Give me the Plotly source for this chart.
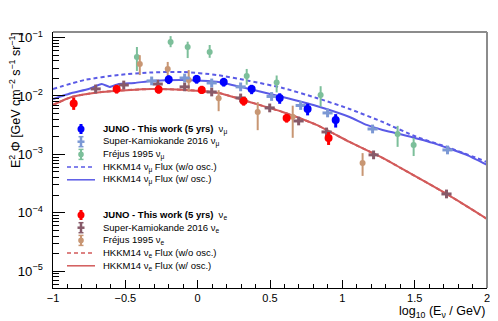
import numpy as np
import plotly.graph_objects as go

# ---- data (x = log10(E/GeV), y = E^2 Phi) ----
# JUNO, this work (5 yrs)
juno_mu_x = [-0.20, -0.007, 0.18, 0.373, 0.567, 0.76, 0.954]
juno_mu_y = [0.0192, 0.0195, 0.0174, 0.0132, 0.00924, 0.00599, 0.00388]
juno_mu_up = [0.07, 0.07, 0.07, 0.07, 0.08, 0.09, 0.10]
juno_mu_dn = [0.08, 0.08, 0.08, 0.09, 0.10, 0.11, 0.13]

juno_e_x = [-0.857, -0.56, -0.27, 0.028, 0.318, 0.615, 0.905]
juno_e_y = [0.00744, 0.0132, 0.0129, 0.0127, 0.0082, 0.0042, 0.00191]
juno_e_up = [0.10, 0.07, 0.07, 0.07, 0.07, 0.07, 0.10]
juno_e_dn = [0.11, 0.08, 0.07, 0.07, 0.08, 0.08, 0.12]

# Super-Kamiokande 2016
sk_mu_x = [-0.318, -0.09, 0.097, 0.297, 0.511, 0.712, 0.898, 1.209, 1.727]
sk_mu_y = [0.0181, 0.0203, 0.0167, 0.0143, 0.0098, 0.00687, 0.00512, 0.00272, 0.00119]

sk_e_x = [-0.705, -0.511, -0.276, -0.09, 0.097, 0.297, 0.498, 0.698, 0.891, 1.216, 1.72]
sk_e_y = [0.0132, 0.0154, 0.0160, 0.0143, 0.0117, 0.00924, 0.00624, 0.00373, 0.00242, 0.00098, 0.00021]

sk_xerr = 0.035
sk_yerr = 0.075

# Frejus 1995
fr_mu_x = [-0.42, -0.187, -0.069, 0.083, 0.339, 0.546, 0.85, 1.382, 1.493]
fr_mu_y = [0.0466, 0.0841, 0.069, 0.0566, 0.022, 0.017, 0.0104, 0.00223, 0.00145]
fr_mu_up = [0.17, 0.10, 0.09, 0.12, 0.12, 0.12, 0.15, 0.14, 0.12]
fr_mu_dn = [0.24, 0.09, 0.19, 0.10, 0.15, 0.17, 0.20, 0.22, 0.19]

fr_e_x = [-0.40, -0.207, -0.062, 0.145, 0.415, 0.657, 1.14]
fr_e_y = [0.0353, 0.029, 0.0188, 0.0091, 0.0053, 0.0044, 0.00071]
fr_e_up = [0.15, 0.12, 0.17, 0.14, 0.17, 0.19, 0.17]
fr_e_dn = [0.19, 0.15, 0.20, 0.22, 0.31, 0.36, 0.22]

# HKKM14 predictions
hk_mu_noosc_x = [-1.0, -0.781, -0.546, -0.318, -0.104, 0.131, 0.359, 0.587, 0.822,
                 1.05, 1.278, 1.513, 1.742, 2.0]
hk_mu_noosc_y = [0.01318, 0.01879, 0.02289, 0.02526, 0.02576, 0.02289, 0.01807, 0.01371,
                 0.00924, 0.00599, 0.00359, 0.00199, 0.00129, 0.00074]

hk_mu_osc_x = [-1.0, -0.871, -0.753, -0.663, -0.608, -0.546, -0.435, -0.318, -0.09, 0.145,
               0.359, 0.587, 0.822, 1.05, 1.168, 1.278, 1.396, 1.624, 1.859, 2.0]
hk_mu_osc_y = [0.00889, 0.01125, 0.01318, 0.01603, 0.01426, 0.01603, 0.01671, 0.01807,
               0.01879, 0.01738, 0.01318, 0.00962, 0.00675, 0.00437, 0.00319, 0.00262,
               0.00223, 0.00157, 0.00098, 0.00066]

hk_e_x = [-1.0, -0.871, -0.663, -0.318, -0.09, 0.145, 0.359, 0.587, 0.822, 1.05,
          1.278, 1.417, 1.721, 2.0]
hk_e_noosc_y = [0.00701, 0.00962, 0.0117, 0.01318, 0.01268, 0.01125, 0.00789, 0.00532,
                0.00319, 0.00163, 0.00087, 0.00056, 0.00021, 0.0000783]
hk_e_osc_y = [0.00701, 0.00962, 0.0117, 0.01318, 0.01268, 0.01125, 0.00789, 0.00532,
              0.00319, 0.00163, 0.00087, 0.00056, 0.00021, 0.0000783]

# ---- colours ----
C_JUNO_MU = "#0000ff"
C_JUNO_E = "#ff0000"
C_SK_MU = "#7b98d4"
C_SK_E = "#875a69"
C_FR_MU = "#7cbf9a"
C_FR_E = "#c89673"
C_HK_MU = "#5a5ae6"
C_HK_E = "#d25a5a"
FONT = "Liberation Sans, Arial, sans-serif"


def log_err(y, up, dn):
    # errors given in decades -> linear plus/minus for the log axis
    y = np.array(y)
    return y * (10 ** np.array(up) - 1), y * (1 - 10 ** -np.array(dn))


fig = go.Figure()

# curves
fig.add_scatter(x=hk_e_x, y=hk_e_noosc_y, mode="lines", name="HKKM14 nue w/o osc",
                line=dict(color=C_HK_E, width=2, dash="4px,3px", shape="spline", smoothing=0.6))
fig.add_scatter(x=hk_e_x, y=hk_e_osc_y, mode="lines", name="HKKM14 nue w/ osc",
                line=dict(color=C_HK_E, width=2, shape="spline", smoothing=0.6))
fig.add_scatter(x=hk_mu_noosc_x, y=hk_mu_noosc_y, mode="lines", name="HKKM14 numu w/o osc",
                line=dict(color=C_HK_MU, width=2, dash="4px,3px", shape="spline", smoothing=0.6))
fig.add_scatter(x=hk_mu_osc_x, y=hk_mu_osc_y, mode="lines", name="HKKM14 numu w/ osc",
                line=dict(color=C_HK_MU, width=2, shape="spline", smoothing=0.4))

# Frejus
for xs, ys, up, dn, col, nm in [(fr_mu_x, fr_mu_y, fr_mu_up, fr_mu_dn, C_FR_MU, "Frejus numu"),
                                (fr_e_x, fr_e_y, fr_e_up, fr_e_dn, C_FR_E, "Frejus nue")]:
    p, m = log_err(ys, up, dn)
    fig.add_scatter(x=xs, y=ys, mode="markers", name=nm,
                    marker=dict(color=col, size=6, symbol="circle"),
                    error_y=dict(type="data", symmetric=False, array=p, arrayminus=m,
                                 color=col, thickness=2, width=0))

# Super-K
for xs, ys, col, nm in [(sk_e_x, sk_e_y, C_SK_E, "SK nue"), (sk_mu_x, sk_mu_y, C_SK_MU, "SK numu")]:
    p, m = log_err(ys, [sk_yerr] * len(ys), [sk_yerr] * len(ys))
    fig.add_scatter(x=xs, y=ys, mode="markers", name=nm,
                    marker=dict(color=col, size=3),
                    error_y=dict(type="data", symmetric=False, array=p, arrayminus=m,
                                 color=col, thickness=3, width=0),
                    error_x=dict(type="constant", value=sk_xerr, color=col, thickness=3, width=0))

# JUNO
for xs, ys, up, dn, col, nm in [(juno_e_x, juno_e_y, juno_e_up, juno_e_dn, C_JUNO_E, "JUNO nue"),
                                (juno_mu_x, juno_mu_y, juno_mu_up, juno_mu_dn, C_JUNO_MU, "JUNO numu")]:
    p, m = log_err(ys, up, dn)
    fig.add_scatter(x=xs, y=ys, mode="markers", name=nm,
                    marker=dict(color=col, size=8, symbol="circle"),
                    error_y=dict(type="data", symmetric=False, array=p, arrayminus=m,
                                 color=col, thickness=3, width=0))

# ---- layout helpers ----
# plot frame in screenshot pixels; the page body adds an 8 px offset
L, R, T, B = 53, 487, 32, 288
PAGE_OFF = 8
FIG_W, FIG_H = 498 - PAGE_OFF, 321 - PAGE_OFF


def fx(p):
    return (p - L) / (R - L)


def fy(p):
    return (B - p) / (B - T)


shapes = [
    dict(type="line", xref="paper", yref="paper", x0=0, x1=1, y0=1, y1=1,
         line=dict(color="#8c8c8c", width=2)),
    dict(type="line", xref="paper", yref="paper", x0=1, x1=1, y0=0, y1=1,
         line=dict(color="#8c8c8c", width=2)),
]
annotations = []


def seg(x0, y0, x1, y1, col, w, dash="solid"):
    shapes.append(dict(type="line", xref="paper", yref="paper",
                       x0=fx(x0), x1=fx(x1), y0=fy(y0), y1=fy(y1),
                       line=dict(color=col, width=w, dash=dash)))


def dot(cx, cy, r, col):
    shapes.append(dict(type="circle", xref="paper", yref="paper",
                       x0=fx(cx - r), x1=fx(cx + r), y0=fy(cy + r), y1=fy(cy - r),
                       fillcolor=col, line=dict(color=col, width=0)))


# manual legend (two blocks), key centre at x=81, text at x=101
legend_rows = [
    ("<b>JUNO - This work (5 yrs)</b>  ν<sub>μ</sub>", "juno", C_JUNO_MU),
    ("Super-Kamiokande 2016 ν<sub>μ</sub>", "sk", C_SK_MU),
    ("Fréjus 1995 ν<sub>μ</sub>", "fr", C_FR_MU),
    ("HKKM14 ν<sub>μ</sub> Flux (w/o osc.)", "dash", C_HK_MU),
    ("HKKM14 ν<sub>μ</sub> Flux (w/ osc.)", "solid", C_HK_MU),
    ("<b>JUNO - This work (5 yrs)</b>  ν<sub>e</sub>", "juno", C_JUNO_E),
    ("Super-Kamiokande 2016 ν<sub>e</sub>", "sk", C_SK_E),
    ("Fréjus 1995 ν<sub>e</sub>", "fr", C_FR_E),
    ("HKKM14 ν<sub>e</sub> Flux (w/o osc.)", "dash", C_HK_E),
    ("HKKM14 ν<sub>e</sub> Flux (w/ osc.)", "solid", C_HK_E),
]
for i, (txt, kind, col) in enumerate(legend_rows):
    y = (129 if i < 5 else 215) + (i % 5) * 12.7
    kx = 81
    if kind == "juno":
        seg(kx, y - 5, kx, y + 5, col, 3)
        dot(kx, y, 3.5, col)
    elif kind == "sk":
        seg(kx, y - 5, kx, y + 5, col, 2.5)
        seg(kx - 3.5, y, kx + 3.5, y, col, 2.5)
        seg(kx - 2.5, y - 5, kx + 2.5, y - 5, col, 1.5)
        seg(kx - 2.5, y + 5, kx + 2.5, y + 5, col, 1.5)
    elif kind == "fr":
        seg(kx, y - 5, kx, y + 5, col, 2)
        seg(kx - 2.5, y - 5, kx + 2.5, y - 5, col, 1.5)
        seg(kx - 2.5, y + 5, kx + 2.5, y + 5, col, 1.5)
        dot(kx, y, 2.8, col)
    elif kind == "dash":
        seg(67, y, 95, y, col, 1.5, "4px,3px")
    else:
        seg(67, y, 95, y, col, 1.5)
    annotations.append(dict(text=txt, xref="paper", yref="paper", x=fx(101), y=fy(y),
                            xanchor="left", yanchor="middle", showarrow=False,
                            font=dict(family=FONT, size=9.5, color="#000000")))

annotations.append(dict(text="E<sup>2</sup> Φ [GeV cm<sup>−2</sup> s<sup>−1</sup> sr<sup>−1</sup>]",
                        xref="paper", yref="paper", x=fx(15), y=fy(30), xanchor="center",
                        yanchor="top", textangle=-90, showarrow=False,
                        font=dict(family=FONT, size=12.5, color="#000000")))
annotations.append(dict(text="log<sub>10</sub> (E<sub>ν</sub> / GeV)",
                        xref="paper", yref="paper", x=1.0, y=fy(312), xanchor="right",
                        yanchor="middle", showarrow=False,
                        font=dict(family=FONT, size=12.5, color="#000000")))

fig.update_layout(
    width=FIG_W, height=FIG_H,
    margin=dict(l=L - PAGE_OFF, r=498 - R, t=T - PAGE_OFF, b=321 - B, autoexpand=False),
    paper_bgcolor="white", plot_bgcolor="white",
    showlegend=False,
    shapes=shapes, annotations=annotations,
    font=dict(family=FONT, color="#000000"),
)
fig.update_xaxes(range=[-1, 2], tick0=-1, dtick=0.5, ticks="inside", ticklen=8,
                 tickcolor="black", showline=True, linecolor="black", linewidth=1,
                 showgrid=False, zeroline=False, tickfont=dict(size=11),
                 automargin=False, ticklabelstandoff=0,
                 minor=dict(ticks="inside", ticklen=4, dtick=0.1, tickcolor="black",
                            showgrid=False))
fig.update_yaxes(type="log", range=[-5.288, -0.905], dtick=1, exponentformat="power",
                 ticks="inside", ticklen=12, tickcolor="black", showline=True,
                 linecolor="black", linewidth=1, showgrid=False, zeroline=False,
                 tickfont=dict(size=10.5), automargin=False, ticklabelstandoff=7,
                 minor=dict(ticks="inside", ticklen=6, dtick="D1", tickcolor="black",
                            showgrid=False))

fig.write_html("out.html")
